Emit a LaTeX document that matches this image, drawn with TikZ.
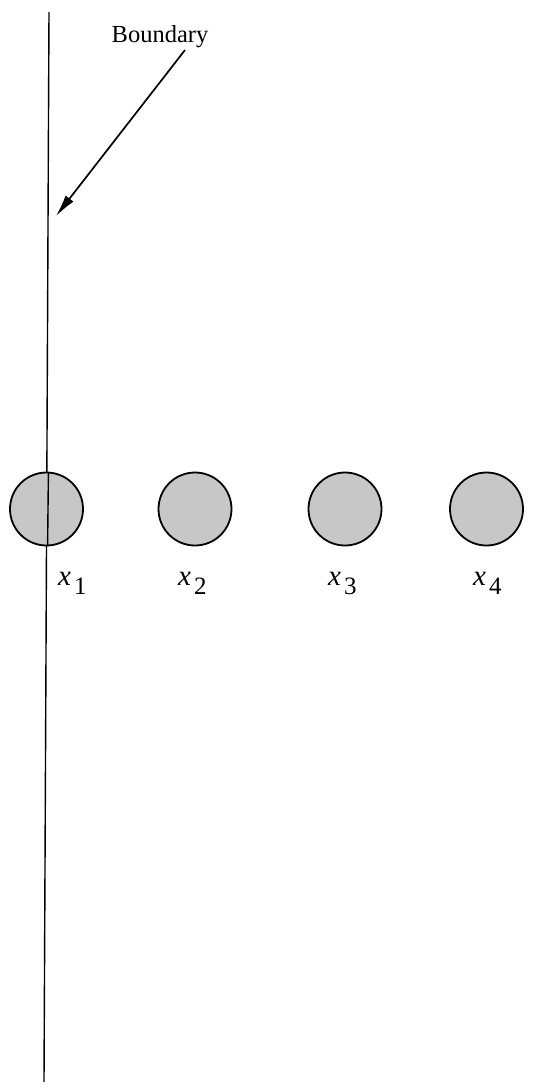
\documentclass[tikz,border=0pt]{standalone}
\usepackage{fontspec}
\usetikzlibrary{arrows.meta}
\setmainfont{Liberation Serif}
\begin{document}
\begin{tikzpicture}[x=1pt,y=-1pt,
  ball/.style={circle,draw=black,line width=1.8pt,fill=black!22,minimum size=73pt,inner sep=0pt},
  lbl/.style={inner sep=0pt,anchor=base west,font=\fontsize{29}{31}\selectfont},
  txt/.style={inner sep=0pt,font=\fontsize{24.5}{26}\selectfont}]
\useasboundingbox (0,0) rectangle (534,1088);
\coordinate (btop) at (49,12);
\coordinate (bbot) at (44,1082);
\draw[line width=1.4pt] (btop) -- (bbot);
\node[ball] (c1) at (46.5,509) {};
\node[ball] (c2) at (195,509) {};
\node[ball] (c3) at (345,509) {};
\node[ball] (c4) at (486.5,509) {};
\draw[line width=1.4pt] (48.4,473) -- (47.6,546);
\node[txt,anchor=base] (bl) at (160,42) {Boundary};
\coordinate (tip) at (56,216);
\draw[line width=1.7pt,-{Latex[length=22pt,width=10pt]}] (185,50) -- (tip);
\node[lbl] (x1) at (58,585) {\textit{x}\hspace{3pt}\raisebox{-9pt}{\fontsize{25}{26}\selectfont 1}};
\node[lbl] (x2) at (178,585) {\textit{x}\hspace{3pt}\raisebox{-9pt}{\fontsize{25}{26}\selectfont 2}};
\node[lbl] (x3) at (328,585) {\textit{x}\hspace{3pt}\raisebox{-9pt}{\fontsize{25}{26}\selectfont 3}};
\node[lbl] (x4) at (473,585) {\textit{x}\hspace{3pt}\raisebox{-9pt}{\fontsize{25}{26}\selectfont 4}};
\end{tikzpicture}
\end{document}
